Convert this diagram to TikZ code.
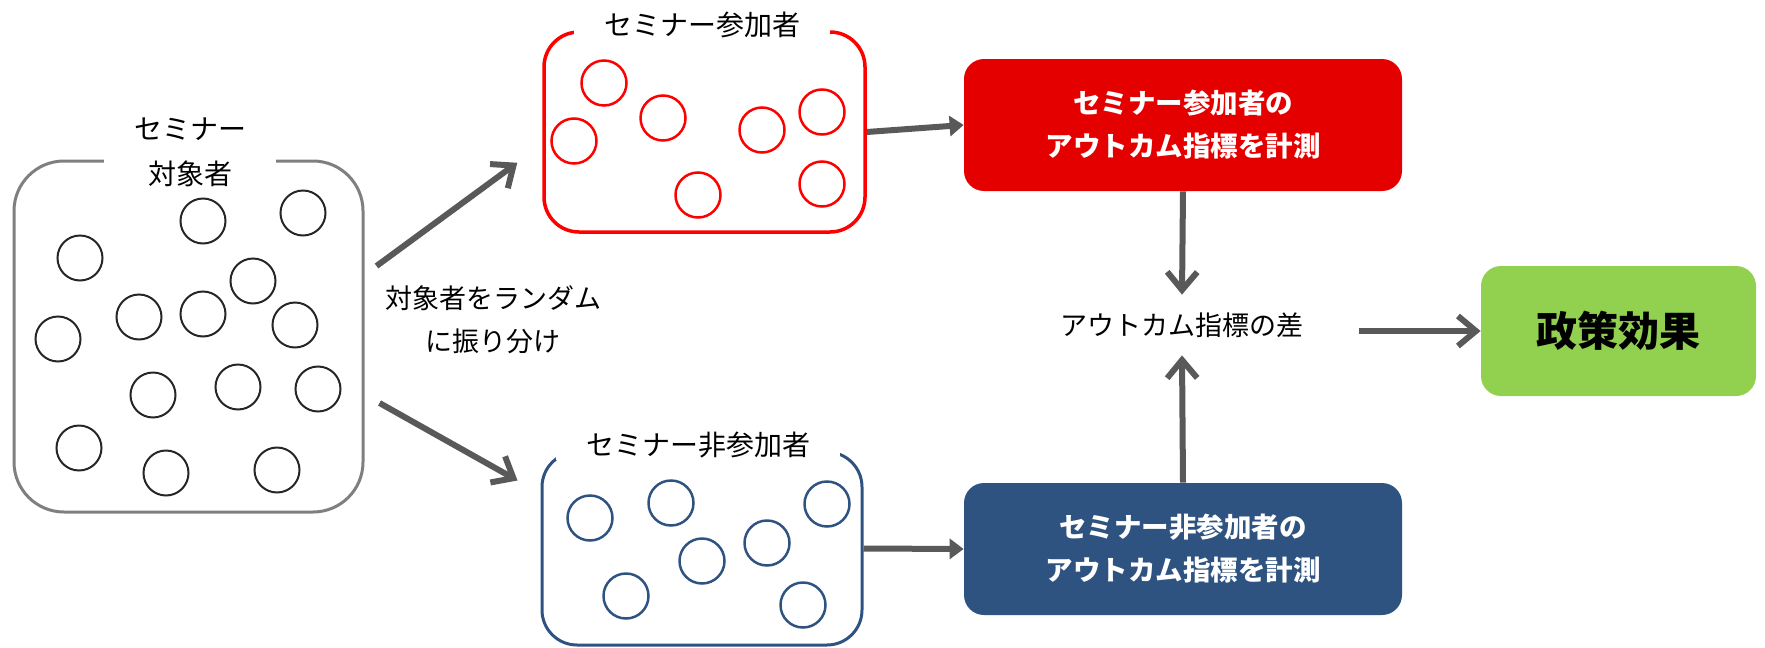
\documentclass[tikz,border=0pt]{standalone}
\usepackage{fontspec}
\newfontfamily\jpfont{Noto Sans CJK JP}
\usetikzlibrary{arrows.meta,calc}

\definecolor{poolGray}{HTML}{7F7F7F}
\definecolor{dotBlack}{HTML}{262626}
\definecolor{grpRed}{HTML}{FF0000}
\definecolor{outRed}{HTML}{E50000}
\definecolor{grpBlue}{HTML}{2F5381}
\definecolor{effGreen}{HTML}{92D050}
\definecolor{arrGray}{HTML}{595959}

\tikzset{every picture/.style={line width=0.75pt},
  grpbox/.style={draw, inner sep=0pt},
  titlebox/.style={fill=white, inner xsep=30pt, inner ysep=2pt, align=center,
    font=\jpfont\fontsize{28}{45}\selectfont},
  outbox/.style={rounded corners=20pt, minimum width=438pt, minimum height=132pt,
    align=center, text=white, font=\jpfont\bfseries\fontsize{27.5}{43}\selectfont},
  lbl/.style={align=center, font=\jpfont\fontsize{27}{43}\selectfont},
  dotK/.style={draw=dotBlack, line width=2pt},
  dotR/.style={draw=grpRed, line width=2.5pt},
  dotB/.style={draw=grpBlue, line width=2.5pt},
  barb/.style={draw=arrGray, line width=6pt, -{Straight Barb[length=18pt,width=30pt]}},
  tri/.style={draw=arrGray, line width=6pt, -{Triangle[length=14pt,width=20pt]}},
}

\begin{document}
\begin{tikzpicture}[x=1pt,y=1pt,yscale=-1,xscale=1]
\useasboundingbox (0,0) rectangle (1765,648);

%Rounded Rect: all invited
\node[grpbox, draw=poolGray, line width=3pt, rounded corners=50pt, minimum width=349pt, minimum height=351pt] (pool) at (188.5,336.5) {};
%Rounded Rect: participants
\node[grpbox, draw=grpRed, line width=3.5pt, rounded corners=35pt, minimum width=321pt, minimum height=200pt] (grpA) at (704.5,132) {};
%Rounded Rect: non-participants
\node[grpbox, draw=grpBlue, line width=3pt, rounded corners=35pt, minimum width=320pt, minimum height=193pt] (grpB) at (702,548.5) {};

% Text Node
\node[titlebox] (poolT) at (190,152) {セミナー\\対象者};
% Text Node
\node[titlebox] (grpAT) at (702,25) {セミナー参加者};
% Text Node
\node[titlebox] (grpBT) at (698,445) {セミナー非参加者};

%Shape: Circle
\draw[dotK] (203,221) circle (22.5);
%Shape: Circle
\draw[dotK] (303,213) circle (22.5);
%Shape: Circle
\draw[dotK] (80,258) circle (22.5);
%Shape: Circle
\draw[dotK] (253,281) circle (22.5);
%Shape: Circle
\draw[dotK] (139,317) circle (22.5);
%Shape: Circle
\draw[dotK] (203,314) circle (22.5);
%Shape: Circle
\draw[dotK] (295,325) circle (22.5);
%Shape: Circle
\draw[dotK] (58,339) circle (22.5);
%Shape: Circle
\draw[dotK] (153,395) circle (22.5);
%Shape: Circle
\draw[dotK] (238,387) circle (22.5);
%Shape: Circle
\draw[dotK] (318,389) circle (22.5);
%Shape: Circle
\draw[dotK] (79,448) circle (22.5);
%Shape: Circle
\draw[dotK] (166,473) circle (22.5);
%Shape: Circle
\draw[dotK] (277,470) circle (22.5);

%Shape: Circle
\draw[dotR] (604,83) circle (22.5);
%Shape: Circle
\draw[dotR] (663,118) circle (22.5);
%Shape: Circle
\draw[dotR] (574,141) circle (22.5);
%Shape: Circle
\draw[dotR] (762,130) circle (22.5);
%Shape: Circle
\draw[dotR] (822,112) circle (22.5);
%Shape: Circle
\draw[dotR] (698,195) circle (22.5);
%Shape: Circle
\draw[dotR] (822,184) circle (22.5);

%Shape: Circle
\draw[dotB] (590,518) circle (22.5);
%Shape: Circle
\draw[dotB] (671,503) circle (22.5);
%Shape: Circle
\draw[dotB] (827,504) circle (22.5);
%Shape: Circle
\draw[dotB] (767,543) circle (22.5);
%Shape: Circle
\draw[dotB] (702,561) circle (22.5);
%Shape: Circle
\draw[dotB] (626,596) circle (22.5);
%Shape: Circle
\draw[dotB] (803,605) circle (22.5);

% Text Node
\node[lbl] (splitT) at (493,320) {対象者をランダム\\に振り分け};

%Rounded Rect: outcome of participants
\node[outbox, fill=outRed] (outA) at (1183,125) {セミナー参加者の\\アウトカム指標を計測};
%Rounded Rect: outcome of non-participants
\node[outbox, fill=grpBlue] (outB) at (1183,549) {セミナー非参加者の\\アウトカム指標を計測};

% Text Node
\node[lbl, minimum height=60pt, inner ysep=0pt] (diff) at (1182,325) {アウトカム指標の差};

%Rounded Rect: effect
\node[fill=effGreen, rounded corners=20pt, minimum width=275pt, minimum height=130pt,
  font=\jpfont\bfseries\fontsize{41}{50}\selectfont] (eff) at (1618.5,331) {政策効果};

%Arrows
\draw[barb] ($(pool.east)+(12,-70.5)$) -- ($(grpA.south west)+(-25,-71)$);
\draw[barb] ($(pool.east)+(15,66.5)$) -- ($(grpB.north west)+(-23,30)$);
\draw[tri] (grpA.east) -- (outA.west);
\draw[tri] (grpB.east) -- (outB.west);
\draw[barb] (outA.south) -- (diff.north);
\draw[barb] (outB.north) -- (diff.south);
\draw[barb] ($(diff.east |- eff.west)+(52,0)$) -- (eff.west);

\end{tikzpicture}
\end{document}
